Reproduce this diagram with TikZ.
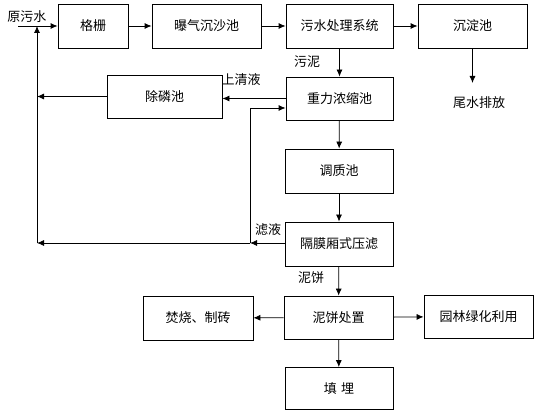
\documentclass[tikz,border=0pt]{standalone}
\usepackage{fontspec}
\setmainfont{Noto Sans CJK SC}
\usetikzlibrary{arrows.meta}

\tikzset{
  box/.style={draw, line width=0.8pt, minimum width=108pt, minimum height=44pt, inner sep=0pt},
  arr/.style={line width=0.8pt, -{Latex[length=7pt,width=6pt]}},
  conn/.style={line width=0.8pt},
  lbl/.style={inner sep=0pt}
}

\begin{document}
\begin{tikzpicture}[x=1pt, y=-1pt, font=\fontsize{13}{15}\selectfont]
            \useasboundingbox (0,0) rectangle (547,411);
            % main line
            \node (ge) [box, minimum width=70pt] at (93,26) {格栅};
            \node (aer) [box, minimum width=109pt] at (206.5,26) {曝气沉沙池};
            \node (sys) [box, minimum width=107pt] at (339.5,26) {污水处理系统};
            \node (sed) [box, minimum width=109pt] at (472.5,26) {沉淀池};
            \node (wei) [lbl] at (479,103) {尾水排放};
            % sludge line
            \node (p) [box, minimum width=115pt, minimum height=43pt] at (164.5,96.5) {除磷池};
            \node (grav) [box, minimum width=107pt, minimum height=43pt] at (339.5,98.5) {重力浓缩池};
            \node (tz) [box] at (339,171) {调质池};
            \node (press) [box] at (339,244) {隔膜厢式压滤};
            \node (cake) [box, minimum width=109pt, minimum height=43pt] at (338.5,317.5) {泥饼处置};
            \node (burn) [box, minimum width=110pt] at (198,318) {焚烧、制砖};
            \node (green) [box, minimum width=109pt, minimum height=43pt] at (478.5,316.5) {园林绿化利用};
            \node (fill) [box, minimum height=42pt] at (339,388.5) {填\,\,埋};
            % free ends
            \coordinate (in) at (18,26);
            \coordinate (top) at (37,26);
            \coordinate (ret) at (37,243);
            \coordinate (jf) at (250,243);
            \coordinate (jt) at (250,108);
            \coordinate (pout) at (37,96.5);
            % labels
            \node (raw) [lbl] at (27,17) {原污水};
            \node [lbl] at (241,80) {上清液};
            \node [lbl] at (307,62) {污泥};
            \node [lbl] at (268,230) {滤液};
            \node [lbl] at (311,278) {泥饼};
            % connectors
            \draw[arr] (in) -- (ge);
            \draw[arr] (ge) -- (aer);
            \draw[arr] (aer) -- (sys);
            \draw[arr] (sys) -- (sed);
            \draw[arr] (sed) -- (sed |- 0,83);
            \draw[arr] (sys) -- (grav);
            \draw[arr] (grav.west) -- (p.east |- grav.west);
            \draw[arr] (p) -- (pout);
            \draw[arr] (grav) -- (tz);
            \draw[arr] (tz) -- (press);
            \draw[arr] (press.west |- jf) -- (jf);
            \draw[arr] (jf) -- (ret);
            \draw[conn] (jf) -- (jt);
            \draw[arr] (jt) -- (jt -| grav.west);
            \draw[arr] (ret) -- (top);
            \draw[arr] (press) -- (cake);
            \draw[arr] (cake) -- (burn);
            \draw[arr] (cake) -- (green);
            \draw[arr] (cake) -- (fill);
        \end{tikzpicture}
\end{document}
